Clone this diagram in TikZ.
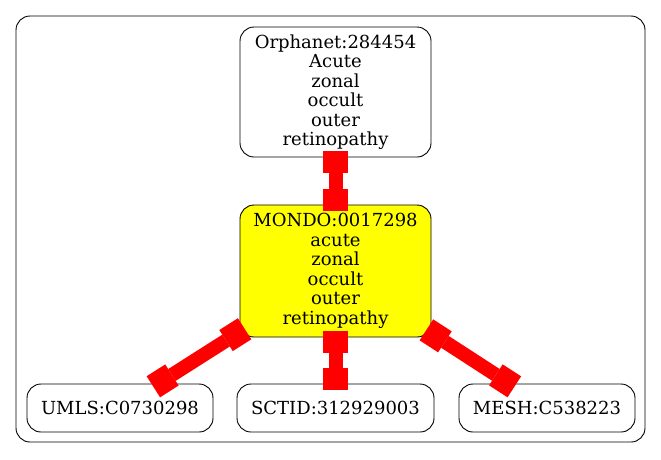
\documentclass[tikz,border=0pt]{standalone}
\usepackage{fontspec}
\setmainfont{DejaVu Serif}
\usetikzlibrary{arrows.meta}
\definecolor{nodeyellow}{RGB}{255,255,0}
\definecolor{edgered}{RGB}{255,0,0}
\begin{document}
\begin{tikzpicture}[x=1pt,y=-1pt,
  termbox/.style={draw=black,line width=0.9pt,rounded corners=14pt,fill=white,inner sep=0pt,
    align=center,font=\fontsize{18}{19.5}\selectfont},
  linkedge/.style={draw=edgered,line width=14pt,
    {Rectangle[length=22pt,width=25pt,line width=0pt]}-{Rectangle[length=22pt,width=25pt,line width=0pt]},
    shorten <=-6pt,shorten >=-6pt}]
\useasboundingbox (0,0) rectangle (661,459);
\draw[line width=0.9pt,rounded corners=14pt] (16,16) rectangle (645,442);
\node[termbox,minimum width=191pt,minimum height=130pt] (orph) at (335.5,92)
  {Orphanet:284454\\Acute\\zonal\\occult\\outer\\retinopathy};
\node[termbox,fill=nodeyellow,minimum width=191pt,minimum height=132pt] (mondo) at (335.5,271)
  {MONDO:0017298\\acute\\zonal\\occult\\outer\\retinopathy};
\node[termbox,minimum width=186pt,minimum height=48pt] (umls) at (120,408) {UMLS:C0730298};
\node[termbox,minimum width=197pt,minimum height=48pt] (sctid) at (335.5,408) {SCTID:312929003};
\node[termbox,minimum width=176pt,minimum height=48pt] (mesh) at (547,408) {MESH:C538223};
\draw[linkedge] (orph) -- (mondo);
\draw[linkedge] (mondo) -- (umls);
\draw[linkedge] (mondo) -- (sctid);
\draw[linkedge] (mondo) -- (mesh);
\end{tikzpicture}
\end{document}
